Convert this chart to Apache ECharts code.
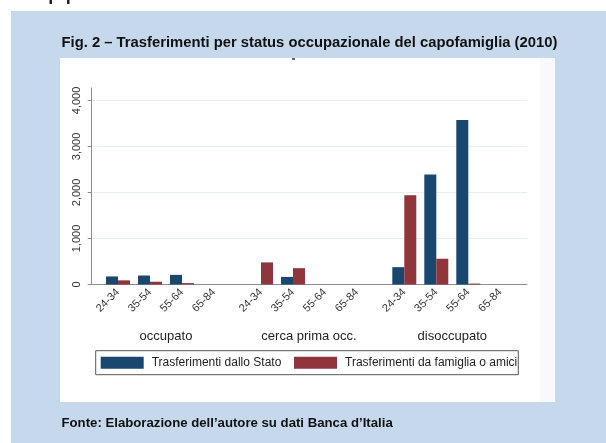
<!DOCTYPE html>
<html><head><meta charset="utf-8">
<script src="https://cdn.jsdelivr.net/npm/echarts@6/dist/echarts.min.js"></script>
<style>html,body{margin:0;padding:0;background:#fff}#c{width:606px;height:443px}</style>
</head><body><div id="c"></div>
<script>
var categories = ['24-34', '35-54', '55-64', '65-84'];
var groups = ['occupato', 'cerca prima occ.', 'disoccupato'];
var seriesNames = ['Trasferimenti dallo Stato', 'Trasferimenti da famiglia o amici'];
var statoOccupato = [175, 195, 210, 0];
var statoCerca = [0, 165, 0, 0];
var statoDisoccupato = [377, 2390, 3575, 0];
var famigliaOccupato = [90, 60, 30, 0];
var famigliaCerca = [480, 355, 0, 0];
var famigliaDisoccupato = [1940, 560, 20, 0];
var yTicks = [0, 1000, 2000, 3000, 4000];

var stato = [statoOccupato, statoCerca, statoDisoccupato];
var famiglia = [famigliaOccupato, famigliaCerca, famigliaDisoccupato];

var FONT = 'Liberation Sans, Arial, Helvetica, sans-serif';
var BLUE = '#1a476f', RED = '#90353b';
var TOP = 88, BOTTOM = 443 - 284.5, YMAX = 4270;
var groupLefts = [102, 245, 388.3];

var grids = [{left: 91.7, right: 606 - 527, top: TOP, bottom: BOTTOM}];
var xAxes = [{gridIndex: 0, type: 'value', min: 0, max: 1,
  axisLine: {show: true, lineStyle: {color: '#8c8c8c', width: 1}},
  axisTick: {show: false}, axisLabel: {show: false}, splitLine: {show: false}}];
var yAxes = [{gridIndex: 0, type: 'value', min: 0, max: YMAX,
  axisLine: {show: true, lineStyle: {color: '#8c8c8c', width: 1}},
  axisTick: {show: true, length: 4, lineStyle: {color: '#8c8c8c'}, customValues: yTicks},
  axisLabel: {rotate: 90, margin: 9, fontFamily: FONT, fontSize: 11, color: '#333',
    customValues: yTicks,
    formatter: function (v) { return v % 1000 === 0 ? v.toLocaleString('en-US') : ''; }},
  splitLine: {show: true, lineStyle: {color: '#e8eff3', width: 1}}}];
var series = [];
groups.forEach(function (g, i) {
  grids.push({left: groupLefts[i], width: 128, top: TOP, bottom: BOTTOM});
  xAxes.push({gridIndex: i + 1, type: 'category', data: categories,
    axisLine: {show: false}, axisTick: {show: false},
    axisLabel: {rotate: 45, margin: 6, fontFamily: FONT, fontSize: 11, color: '#333', interval: 0},
    name: g, nameLocation: 'middle', nameGap: 45,
    nameTextStyle: {fontFamily: FONT, fontSize: 13, color: '#222'}});
  yAxes.push({gridIndex: i + 1, type: 'value', min: 0, max: YMAX, show: false});
  series.push({name: seriesNames[0], type: 'bar', xAxisIndex: i + 1, yAxisIndex: i + 1,
    data: stato[i], barWidth: 12, barGap: '0%', itemStyle: {color: BLUE}});
  series.push({name: seriesNames[1], type: 'bar', xAxisIndex: i + 1, yAxisIndex: i + 1,
    data: famiglia[i], barWidth: 12, barGap: '0%', itemStyle: {color: RED}});
});

var chart = echarts.init(document.getElementById('c'), null, {renderer: 'canvas'});
chart.setOption({
  animation: false,
  backgroundColor: '#ffffff',
  graphic: [
    {type: 'rect', z: -10, shape: {x: 11, y: 11, width: 595, height: 432}, style: {fill: '#c6d9ec'}},
    {type: 'rect', z: -9, shape: {x: 60, y: 58, width: 495, height: 344}, style: {fill: '#ffffff'}},
    {type: 'rect', z: -8, shape: {x: 540, y: 58, width: 15, height: 344}, style: {fill: '#f7f9fc'}},
    {type: 'rect', z: 10, shape: {x: 49.5, y: 0, width: 2.5, height: 4}, style: {fill: '#222'}},
    {type: 'rect', z: 10, shape: {x: 67, y: 0, width: 2.5, height: 4}, style: {fill: '#222'}},
    {type: 'rect', z: 10, shape: {x: 292, y: 58, width: 3, height: 2}, style: {fill: '#666'}},
    {type: 'text', z: 10, left: 61.5, top: 35, style: {text: 'Fig. 2 \u2013 Trasferimenti per status occupazionale del capofamiglia (2010)', font: 'bold 14.8px ' + FONT, fill: '#111'}},
    {type: 'text', z: 10, left: 61.5, top: 416.5, style: {text: 'Fonte: Elaborazione dell\u2019autore su dati Banca d\u2019Italia', font: 'bold 13.2px ' + FONT, fill: '#111'}}
  ],
  grid: grids,
  xAxis: xAxes,
  yAxis: yAxes,
  legend: {
    data: seriesNames, left: 95.7, top: 350.7, orient: 'horizontal',
    icon: 'rect', itemWidth: 43, itemHeight: 12, itemGap: 12.7,
    padding: [6, 1, 6, 5], borderColor: '#555', borderWidth: 1,
    textStyle: {fontFamily: FONT, fontSize: 12, color: '#222', padding: [0, 0, 0, 3]}
  },
  series: series
});
</script></body></html>
